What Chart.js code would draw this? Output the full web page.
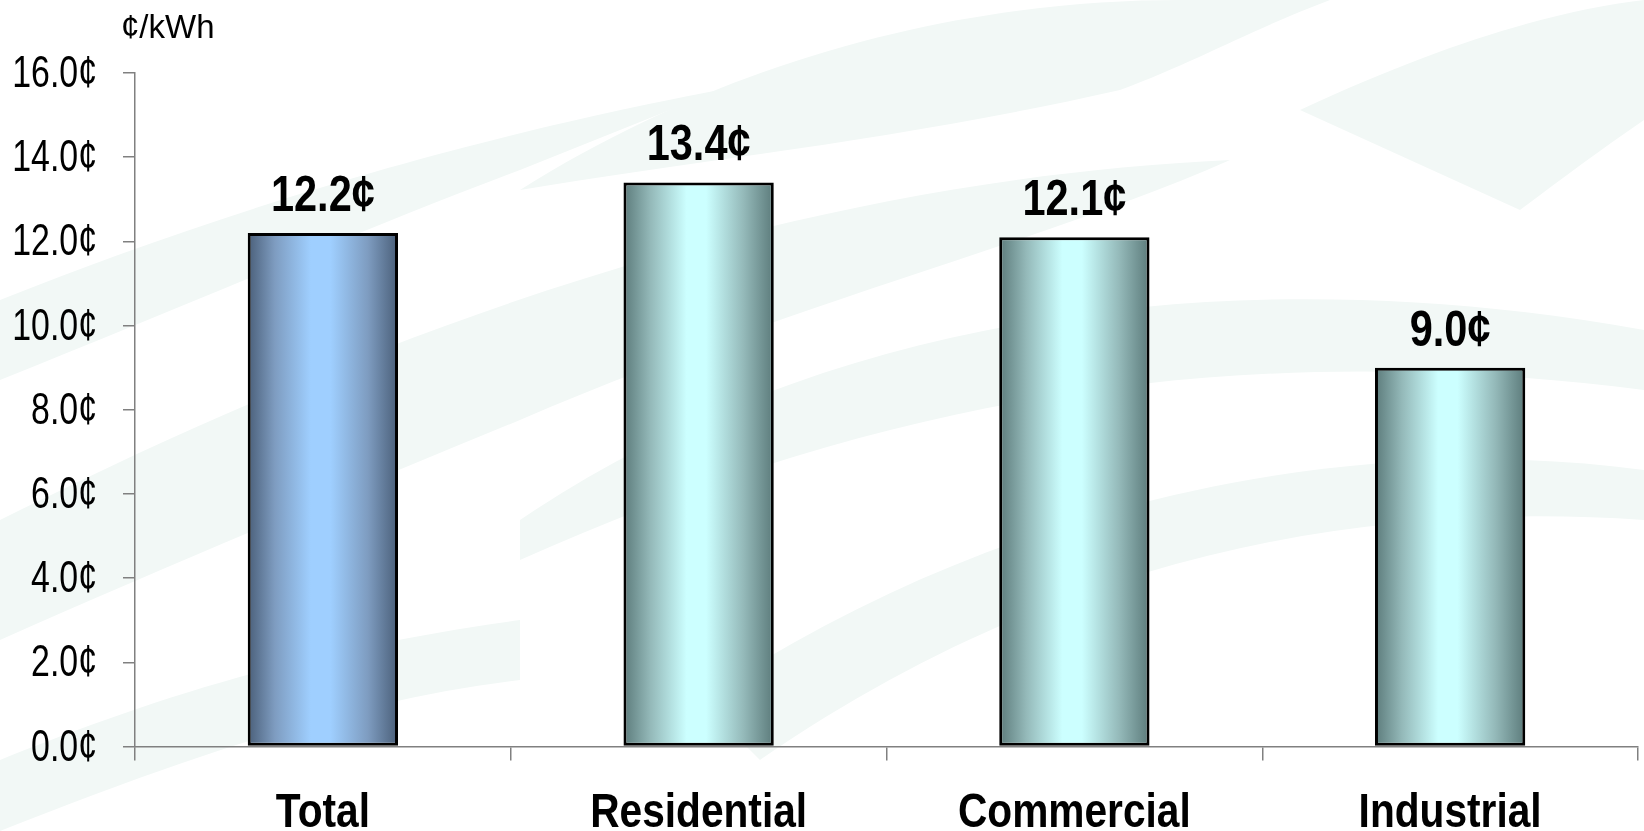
<!DOCTYPE html>
<html>
<head>
<meta charset="utf-8">
<script src="https://cdn.jsdelivr.net/npm/chart.js@4"></script>
<style>
    html, body { margin: 0; padding: 0; background: #ffffff; }
    #wrap {
        position: relative;
        width: 1644px;
        height: 831px;
        background-color: #ffffff;
        background-image: url("data:image/svg+xml;utf8,<svg xmlns='http://www.w3.org/2000/svg' width='1644' height='831'><g fill='%23f2f8f6'><path d='M0 300 C300 180 560 120 720 90 L520 170 C360 230 200 300 0 380 Z'/><path d='M0 520 C400 320 800 180 1230 160 C1050 240 800 300 520 420 C350 490 180 560 0 640 Z'/><path d='M520 190 C760 40 1000 0 1180 0 L1330 0 C1250 30 1200 60 1120 90 C900 140 700 160 520 190 Z'/><path d='M1300 110 C1450 40 1560 10 1644 0 L1644 120 C1600 150 1560 180 1520 210 Z'/><path d='M520 520 C800 330 1200 250 1644 330 L1644 390 C1250 340 900 390 520 560 Z'/><path d='M700 700 C1000 500 1350 430 1644 470 L1644 520 C1350 500 1050 560 760 760 Z'/><path d='M0 760 C150 700 300 650 520 620 L520 680 C350 700 180 760 0 831 Z'/></g></svg>");
    }
    canvas { display: block; }
</style>
</head>
<body>
<div id="wrap"><canvas id="priceChart" width="1644" height="831"></canvas></div>
<script>
// Average retail price of electricity, cents per kWh
const categories = ['Total', 'Residential', 'Commercial', 'Industrial'];
const prices = [12.2, 13.4, 12.1, 9.0];
const yTicks = [0, 2, 4, 6, 8, 10, 12, 14, 16];

const sans = "'Liberation Sans', Arial, sans-serif";

// edge / centre colours of each bar's cylinder shading
const edgeColors = ['#4a5f79', '#5c7b7b', '#5c7b7b', '#5c7b7b'];
const midColors = ['#7e9cc0', '#94b9b9', '#94b9b9', '#94b9b9'];
const lightColors = ['#9fcfff', '#ccffff', '#ccffff', '#ccffff'];

const barFraction = 0.4;

function barGradient(context) {
    const chart = context.chart;
    const i = context.dataIndex;
    if (!chart.chartArea) return edgeColors[i];
    const xs = chart.scales.x;
    const cx = xs.getPixelForValue(i);
    const half = (xs.width / categories.length) * barFraction / 2;
    const g = chart.ctx.createLinearGradient(cx - half, 0, cx + half, 0);
    g.addColorStop(0, edgeColors[i]);
    g.addColorStop(0.18, midColors[i]);
    g.addColorStop(0.42, lightColors[i]);
    g.addColorStop(0.55, lightColors[i]);
    g.addColorStop(0.8, midColors[i]);
    g.addColorStop(1, edgeColors[i]);
    return g;
}

// draw text squeezed horizontally (no narrow face is installed)
function narrowText(ctx, text, x, y, align, font, sx) {
    ctx.save();
    ctx.translate(x, y);
    ctx.scale(sx, 1);
    ctx.font = font;
    ctx.fillStyle = '#000000';
    ctx.textAlign = align;
    ctx.textBaseline = 'alphabetic';
    ctx.fillText(text, 0, 0);
    ctx.restore();
}

// tick labels, value labels and unit caption
const textLayer = {
    id: 'textLayer',
    afterDraw(chart) {
        const ctx = chart.ctx;
        const xs = chart.scales.x;
        const ys = chart.scales.y;
        const meta = chart.getDatasetMeta(0);

        yTicks.forEach(v => {
            const y = ys.getPixelForValue(v);
            narrowText(ctx, v.toFixed(1) + '¢', 97, y + 14, 'right', '44px ' + sans, 0.77);
        });

        categories.forEach((c, i) => {
            narrowText(ctx, c, xs.getPixelForValue(i), 827, 'center', 'bold 49px ' + sans, 0.83);
        });

        meta.data.forEach((bar, i) => {
            narrowText(ctx, prices[i].toFixed(1) + '¢', bar.x, bar.y - 22, 'center', 'bold 50px ' + sans, 0.83);
        });

        narrowText(ctx, '¢/kWh', 121, 38, 'left', '33px ' + sans, 1);
    }
};

const ctx = document.getElementById('priceChart').getContext('2d');

new Chart(ctx, {
    type: 'bar',
    data: {
        labels: categories,
        datasets: [{
            data: prices,
            backgroundColor: barGradient,
            borderColor: '#000000',
            borderWidth: 3,
            borderSkipped: false,
            barPercentage: barFraction,
            categoryPercentage: 1.0
        }]
    },
    options: {
        responsive: false,
        animation: false,
        devicePixelRatio: 1,
        layout: {
            padding: { top: 73, right: 6, bottom: 0, left: 0 }
        },
        plugins: {
            legend: { display: false },
            tooltip: { enabled: false }
        },
        scales: {
            x: {
                offset: true,
                grid: {
                    offset: true,
                    drawOnChartArea: false,
                    color: '#808080',
                    lineWidth: 1.5,
                    tickLength: 14
                },
                border: { color: '#808080', width: 1.5 },
                ticks: { display: false },
                afterFit(scale) { scale.height = 84.5; }
            },
            y: {
                min: 0,
                max: 16,
                afterBuildTicks(scale) {
                    scale.ticks = yTicks.map(v => ({ value: v }));
                },
                grid: {
                    drawOnChartArea: false,
                    color: '#808080',
                    lineWidth: 1.5,
                    tickLength: 12
                },
                border: { color: '#808080', width: 1.5 },
                ticks: { display: false },
                afterFit(scale) { scale.width = 135; }
            }
        }
    },
    plugins: [textLayer]
});
</script>
</body>
</html>
